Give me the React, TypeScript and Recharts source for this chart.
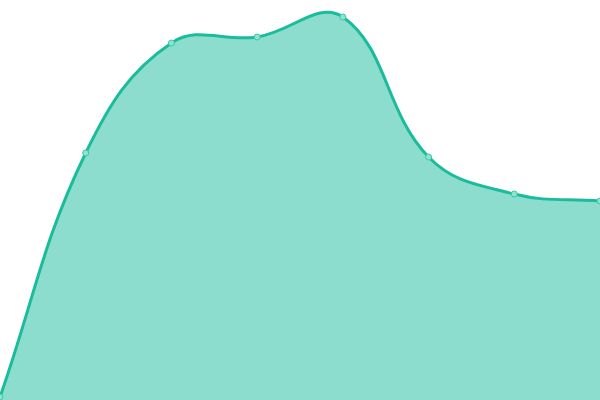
import { Area, AreaChart, XAxis, YAxis } from "recharts";

const labels = ["A", "B", "C", "D", "E", "F", "G", "H"];
const values = [3, 247, 357, 363, 383, 243, 206, 199];

const data = labels.map((label, i) => ({ label, value: values[i] }));

// tension spline, control points from neighbours weighted by distance
const TENSION = 0.4;
function tensionCurve(context: any) {
  let pts: number[][] = [];
  let line = NaN;
  return {
    areaStart() {
      line = 0;
    },
    areaEnd() {
      line = NaN;
    },
    lineStart() {
      pts = [];
    },
    point(x: number, y: number) {
      pts.push([+x, +y]);
    },
    lineEnd() {
      const n = pts.length;
      if (n) {
        if (line) context.lineTo(pts[0][0], pts[0][1]);
        else context.moveTo(pts[0][0], pts[0][1]);
        const cps = pts.map((p, i) => {
          const prev = pts[i - 1] || p;
          const next = pts[i + 1] || p;
          const d01 = Math.hypot(p[0] - prev[0], p[1] - prev[1]);
          const d12 = Math.hypot(next[0] - p[0], next[1] - p[1]);
          let s01 = d01 / (d01 + d12);
          let s12 = d12 / (d01 + d12);
          if (!isFinite(s01)) s01 = 0;
          if (!isFinite(s12)) s12 = 0;
          const fa = TENSION * s01;
          const fb = TENSION * s12;
          return {
            before: [p[0] - fa * (next[0] - prev[0]), p[1] - fa * (next[1] - prev[1])],
            after: [p[0] + fb * (next[0] - prev[0]), p[1] + fb * (next[1] - prev[1])],
          };
        });
        for (let i = 1; i < n; i++) {
          const a = cps[i - 1].after;
          const b = cps[i].before;
          context.bezierCurveTo(a[0], a[1], b[0], b[1], pts[i][0], pts[i][1]);
        }
      }
      if (line || (line !== 0 && n === 1)) context.closePath();
      line = 1 - line;
    },
  };
}

export default function App() {
  return (
    <div style={{ position: "absolute", left: 0, top: 0, width: 600, height: 400 }}>
      <AreaChart width={600} height={400} data={data} margin={{ top: 0, right: 0, bottom: 0, left: 0 }}>
        <XAxis dataKey="label" hide />
        <YAxis domain={[0, 400]} hide />
        <Area
          type={tensionCurve as any}
          dataKey="value"
          stroke="#1abc9c"
          strokeWidth={3}
          fill="#1abc9c"
          fillOpacity={0.5}
          dot={{ r: 3, fill: "#8ee3d1", stroke: "#3cc7a8", strokeWidth: 1, fillOpacity: 1 }}
          activeDot={false}
          isAnimationActive={false}
        />
      </AreaChart>
    </div>
  );
}
